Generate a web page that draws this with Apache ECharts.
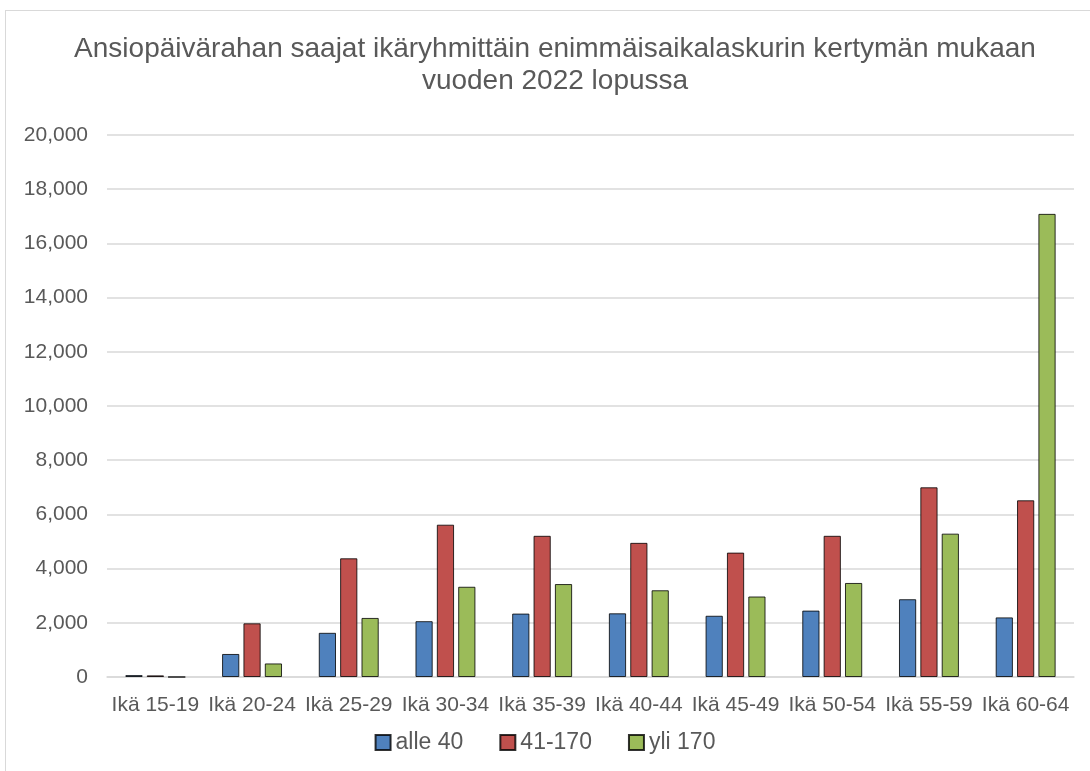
<!DOCTYPE html>
<html>
<head>
<meta charset="utf-8">
<script src="https://cdn.jsdelivr.net/npm/echarts@6/dist/echarts.min.js"></script>
<style>
    html, body { margin: 0; padding: 0; background: #fff; }
    #frame {
        position: absolute; left: 5px; top: 10px;
        width: 1100px; height: 800px;
        border: 1px solid #d9d9d9;
    }
    #chart { position: absolute; left: 0; top: 0; width: 1090px; height: 771px; }
</style>
</head>
<body>
<div id="frame"></div>
<div id="chart"></div>
<script>
// ikäryhmät
const categories = ['Ikä 15-19', 'Ikä 20-24', 'Ikä 25-29', 'Ikä 30-34', 'Ikä 35-39',
    'Ikä 40-44', 'Ikä 45-49', 'Ikä 50-54', 'Ikä 55-59', 'Ikä 60-64'];
const seriesNames = ['alle 40', '41-170', 'yli 170'];
const alle40 = [70, 850, 1630, 2060, 2340, 2350, 2260, 2450, 2870, 2200];
const v41_170 = [60, 1980, 4380, 5620, 5210, 4950, 4590, 5210, 7000, 6520];
const yli170 = [0, 500, 2180, 3330, 3430, 3200, 2970, 3470, 5290, 17090];
const yTicks = [0, 2000, 4000, 6000, 8000, 10000, 12000, 14000, 16000, 18000, 20000];

const colors = ['#4F81BD', '#C0504D', '#9BBB59'];
const font = 'Liberation Sans, Arial, sans-serif';

let chart = echarts.init(document.getElementById('chart'));

const makeBar = (name, data, i) => ({
    name: name,
    type: 'bar',
    data: data,
    barGap: '24%',
    barCategoryGap: '38%',
    itemStyle: {
        color: colors[i],
        borderColor: 'rgba(0,0,0,0.8)',
        borderWidth: 1
    }
});

chart.setOption({
    animation: false,
    textStyle: { fontFamily: font },
    title: {
        text: 'Ansiopäivärahan saajat ikäryhmittäin enimmäisaikalaskurin kertymän mukaan\nvuoden 2022 lopussa',
        left: 550,
        textAlign: 'center',
        top: 28,
        textStyle: {
            fontFamily: font,
            fontSize: 28,
            fontWeight: 'normal',
            color: '#595959',
            lineHeight: 32
        }
    },
    legend: {
        bottom: 12,
        left: 'center',
        itemWidth: 15,
        itemHeight: 15,
        itemGap: 36,
        icon: 'rect',
        textStyle: { fontFamily: font, fontSize: 23, color: '#595959' },
        data: seriesNames
    },
    grid: { left: 107, right: 16, top: 135, bottom: 94, containLabel: false },
    xAxis: {
        type: 'category',
        data: categories,
        axisLine: { lineStyle: { color: '#d9d9d9', width: 1.5 } },
        axisTick: { show: false },
        axisLabel: { fontFamily: font, fontSize: 21, color: '#595959', margin: 18, interval: 0 }
    },
    yAxis: {
        type: 'value',
        min: yTicks[0],
        max: yTicks[yTicks.length - 1],
        interval: 2000,
        axisLine: { show: false },
        axisTick: { show: false },
        splitLine: { lineStyle: { color: '#d9d9d9', width: 1.5 } },
        axisLabel: {
            fontFamily: font, fontSize: 21, color: '#595959', margin: 19,
            formatter: v => v.toLocaleString('en-US')
        }
    },
    series: [
        makeBar(seriesNames[0], alle40, 0),
        makeBar(seriesNames[1], v41_170, 1),
        makeBar(seriesNames[2], yli170, 2)
    ]
});
</script>
</body>
</html>
